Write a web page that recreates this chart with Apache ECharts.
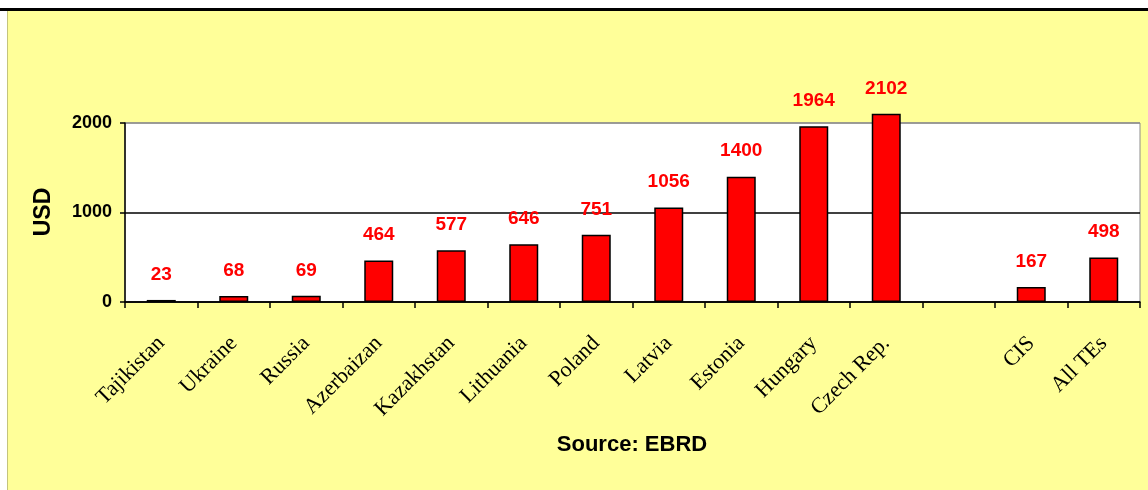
<!DOCTYPE html>
<html>
<head>
<meta charset="utf-8">
<script src="https://cdn.jsdelivr.net/npm/echarts@6/dist/echarts.min.js"></script>
<style>
  html, body { margin: 0; padding: 0; background: #ffffff; }
  #chart { position: absolute; left: 0; top: 0; width: 1148px; height: 490px; }
  #topline { position: absolute; left: 0; top: 0; width: 1148px; height: 8px; background: #fff; border-bottom: 3px solid #000; pointer-events: none; }
  #leftline { position: absolute; left: 0; top: 0; width: 7px; height: 490px; background: #fff; border-right: 1px solid #c4c47c; pointer-events: none; }
</style>
</head>
<body>
<div id="chart"></div>
<div id="leftline"></div>
<div id="topline"></div>
<script>
const categories = ['Tajikistan', 'Ukraine', 'Russia', 'Azerbaizan', 'Kazakhstan', 'Lithuania', 'Poland', 'Latvia', 'Estonia', 'Hungary', 'Czech Rep.', '', 'CIS', 'All TEs'];
const values = [23, 68, 69, 464, 577, 646, 751, 1056, 1400, 1964, 2102, null, 167, 498];
const yTicks = [0, 1000, 2000];
const axisTitle = 'USD';
const sourceNote = 'Source: EBRD';

const chart = echarts.init(document.getElementById('chart'), null, { renderer: 'canvas' });
chart.setOption({
  backgroundColor: '#FFFF99',
  animation: false,
  grid: {
    left: 125, right: 8, top: 123, bottom: 188,
    show: true, backgroundColor: '#ffffff', borderColor: '#8c8c8c', borderWidth: 1
  },
  xAxis: {
    type: 'category',
    data: categories,
    axisLine: { lineStyle: { color: '#000', width: 1.5 } },
    axisTick: { show: true, length: 6, lineStyle: { color: '#000', width: 1.5 } },
    axisLabel: {
      rotate: 45, margin: 38, interval: 0,
      fontFamily: '"Liberation Serif", "Times New Roman", serif',
      fontSize: 22, color: '#000'
    }
  },
  yAxis: {
    type: 'value',
    min: yTicks[0], max: yTicks[yTicks.length - 1], interval: 1000,
    axisLine: { show: true, lineStyle: { color: '#000', width: 1.5 } },
    axisTick: { show: true, length: 5, lineStyle: { color: '#000', width: 1.5 } },
    axisLabel: {
      margin: 13, fontFamily: 'Arial, "Liberation Sans", sans-serif',
      fontWeight: 'bold', fontSize: 18, color: '#000',
      formatter: function (v) { return String(v); }
    },
    splitLine: { show: true, lineStyle: { color: ['#000', '#000', '#8c8c8c'], width: 1.5 } }
  },
  series: [{
    type: 'bar',
    data: values,
    barWidth: 29,
    clip: false,
    itemStyle: { color: '#FF0000', borderColor: '#000', borderWidth: 1.5 },
    label: {
      show: true, position: 'top', distance: 16,
      fontFamily: 'Arial, "Liberation Sans", sans-serif',
      fontWeight: 'bold', fontSize: 19, color: '#FF0000'
    }
  }],
  graphic: [
    {
      type: 'text', x: 44, y: 212, rotation: Math.PI / 2,
      style: {
        text: axisTitle, align: 'center', verticalAlign: 'middle',
        font: 'bold 23px Arial, "Liberation Sans", sans-serif', fill: '#000'
      }
    },
    {
      type: 'text', x: 632, y: 445,
      style: {
        text: sourceNote, align: 'center', verticalAlign: 'middle',
        font: 'bold 22px Arial, "Liberation Sans", sans-serif', fill: '#000'
      }
    }
  ]
});
</script>
</body>
</html>
